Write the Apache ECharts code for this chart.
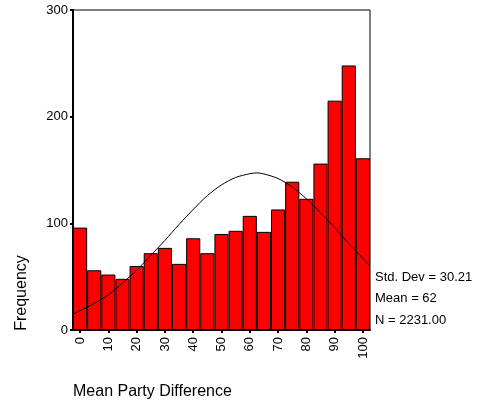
<!DOCTYPE html>
<html>
<head>
<meta charset="utf-8">
<script src="https://cdn.jsdelivr.net/npm/echarts@6/dist/echarts.min.js"></script>
<style>
html,body{margin:0;padding:0;background:#fff}
#main{width:479px;height:409px}
</style>
</head>
<body>
<div id="main"></div>
<script>
// histogram bins (bin centres) and counts
var binLabels = ['0','5','10','15','20','25','30','35','40','45','50','55','60','65','70','75','80','85','90','95','100']
var counts = [96, 56, 52, 48, 60, 72, 77, 62, 86, 72, 90, 93, 107, 92, 113, 139, 123, 156, 215, 248, 161]

// normal curve
var curveX = [-2.5, 0, 5, 10, 15, 20, 25, 30, 35, 40, 45, 50, 55, 60, 62.5, 65, 70, 75, 80, 85, 90, 95, 100, 102.5]
var curveY = [15, 18, 25, 33, 44, 56, 70, 84, 99, 113, 126, 136, 143, 146.5, 147.3, 146.3, 142, 134, 123, 110, 96, 81, 67, 60]

var statLines = ['Std. Dev = 30.21', 'Mean = 62', 'N = 2231.00']

var font = 'Liberation Sans, Arial, sans-serif'

var curveData = []
for (var i = 0; i < curveX.length; i++) curveData.push([curveX[i], curveY[i]])

var chart = echarts.init(document.getElementById('main'))

var opt = {
    animation: false,
    grid: {
        left: 73, right: 109, top: 10, bottom: 79,
        show: true, borderColor: '#000', borderWidth: 1, backgroundColor: 'transparent'
    },
    xAxis: [
        {
            type: 'category',
            data: binLabels,
            boundaryGap: true,
            axisLine: {onZero: false, lineStyle: {color: '#000', width: 2}},
            axisTick: {show: true, alignWithLabel: true, interval: 1, length: 3, lineStyle: {color: '#000', width: 2}},
            axisLabel: {interval: 1, rotate: 90, color: '#000', fontFamily: font, fontSize: 13, margin: 7}
        },
        {
            type: 'value',
            min: -2.5, max: 102.5,
            show: false
        }
    ],
    yAxis: {
        type: 'value',
        min: 0, max: 300, interval: 100,
        axisLine: {show: true, onZero: false, lineStyle: {color: '#000', width: 2}},
        axisTick: {show: true, length: 3, lineStyle: {color: '#000', width: 2}},
        axisLabel: {color: '#000', fontFamily: font, fontSize: 13, margin: 5},
        splitLine: {show: false}
    },
    series: [
        {
            type: 'bar',
            data: counts,
            barCategoryGap: 0,
            itemStyle: {color: '#ff0000', borderColor: '#000', borderWidth: 1}
        },
        {
            type: 'line',
            xAxisIndex: 1,
            data: curveData,
            smooth: 0.3,
            showSymbol: false,
            lineStyle: {color: '#000', width: 1},
            z: 5
        }
    ],
    graphic: [
        {type: 'text', left: 375, top: 271, style: {text: statLines[0], fill: '#000', font: '13px ' + font}},
        {type: 'text', left: 375, top: 292, style: {text: statLines[1], fill: '#000', font: '13px ' + font}},
        {type: 'text', left: 375, top: 314, style: {text: statLines[2], fill: '#000', font: '13px ' + font}},
        {type: 'text', x: 22, y: 293, rotation: Math.PI / 2,
            style: {text: 'Frequency', fill: '#000', font: '16px ' + font, align: 'center', verticalAlign: 'middle'}},
        {type: 'text', x: 73, y: 392,
            style: {text: 'Mean Party Difference', fill: '#000', font: '16px ' + font, align: 'left', verticalAlign: 'middle'}}
    ]
}

chart.setOption(opt)
</script>
</body>
</html>
